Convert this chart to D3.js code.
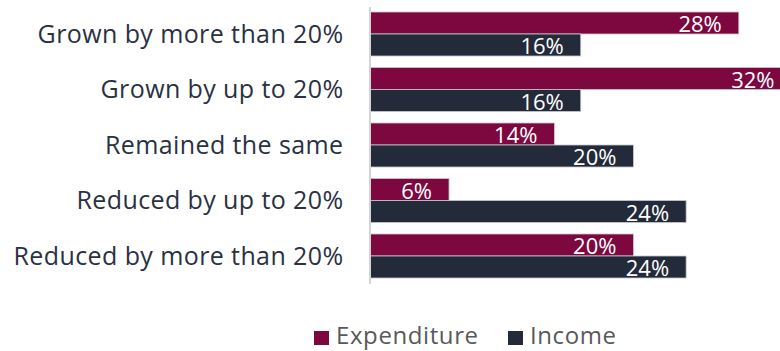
<!DOCTYPE html>
<html>
<head>
<meta charset="utf-8">
<script src="https://cdn.jsdelivr.net/npm/d3@7"></script>
<style>
  html, body { margin: 0; padding: 0; background: #fff; }
  svg { display: block; }
</style>
</head>
<body>
<svg id="chart" width="780" height="351"></svg>
<script>
// Change categories and share of respondents per series (%)
const categories = [
  "Grown by more than 20%",
  "Grown by up to 20%",
  "Remained the same",
  "Reduced by up to 20%",
  "Reduced by more than 20%"
];
const seriesNames = ["Expenditure", "Income"];
const expenditure = [28, 32, 14, 6, 20];
const income = [16, 16, 20, 24, 24];

const colors = { Expenditure: "#7d0840", Income: "#232a3a" };
const fontFamily = "'Open Sans', 'Noto Sans', sans-serif";

const rows = categories.map((c, i) => ({
  category: c,
  values: [
    { key: "Expenditure", value: expenditure[i] },
    { key: "Income", value: income[i] }
  ]
}));

const svg = d3.select("#chart");

const x = d3.scaleLinear().domain([0, 32]).range([370, 791.5]);
const y = d3.scaleBand().domain(categories).range([6.25, 283.75])
  .paddingInner(0.207).paddingOuter(0.1035);
const ySub = d3.scaleBand().domain(seriesNames).range([0, y.bandwidth()]);

// Category labels
svg.append("g")
  .selectAll("text")
  .data(categories)
  .join("text")
  .attr("x", 343.5)
  .attr("y", d => y(d) + y.bandwidth() / 2)
  .attr("dy", "0.35em")
  .attr("text-anchor", "end")
  .attr("font-family", fontFamily)
  .attr("font-size", 25)
  .attr("letter-spacing", 0.4)
  .attr("fill", "#2a3142")
  .text(d => d);

// Bars
const groups = svg.append("g")
  .selectAll("g")
  .data(rows)
  .join("g")
  .attr("transform", d => `translate(0,${y(d.category)})`);

groups.selectAll("rect")
  .data(d => d.values)
  .join("rect")
  .attr("x", x(0))
  .attr("y", d => ySub(d.key))
  .attr("width", d => x(d.value) - x(0))
  .attr("height", ySub.bandwidth())
  .attr("fill", d => colors[d.key])
  .attr("stroke", "#c9c9cf")
  .attr("stroke-width", 0.8);

groups.selectAll("text")
  .data(d => d.values)
  .join("text")
  .attr("x", d => x(d.value) - 17)
  .attr("y", d => ySub(d.key) + ySub.bandwidth() / 2 + 1.5)
  .attr("dy", "0.35em")
  .attr("text-anchor", "end")
  .attr("font-family", fontFamily)
  .attr("font-size", 22)
  .attr("fill", "#ffffff")
  .text(d => d.value + "%");

// Vertical baseline
svg.append("line")
  .attr("x1", x(0)).attr("x2", x(0))
  .attr("y1", 7).attr("y2", 284)
  .attr("stroke", "#d4d4d4")
  .attr("stroke-width", 2);

// Legend
const legendX = [314, 508];
const legend = svg.append("g")
  .selectAll("g")
  .data(seriesNames)
  .join("g")
  .attr("transform", (d, i) => `translate(${legendX[i]},331)`);

legend.append("rect")
  .attr("width", 15).attr("height", 14)
  .attr("fill", d => colors[d]);

legend.append("text")
  .attr("x", 22)
  .attr("y", 13)
  .attr("font-family", fontFamily)
  .attr("font-size", 24)
  .attr("letter-spacing", 0.6)
  .attr("fill", "#58595b")
  .text(d => d);
</script>
</body>
</html>
